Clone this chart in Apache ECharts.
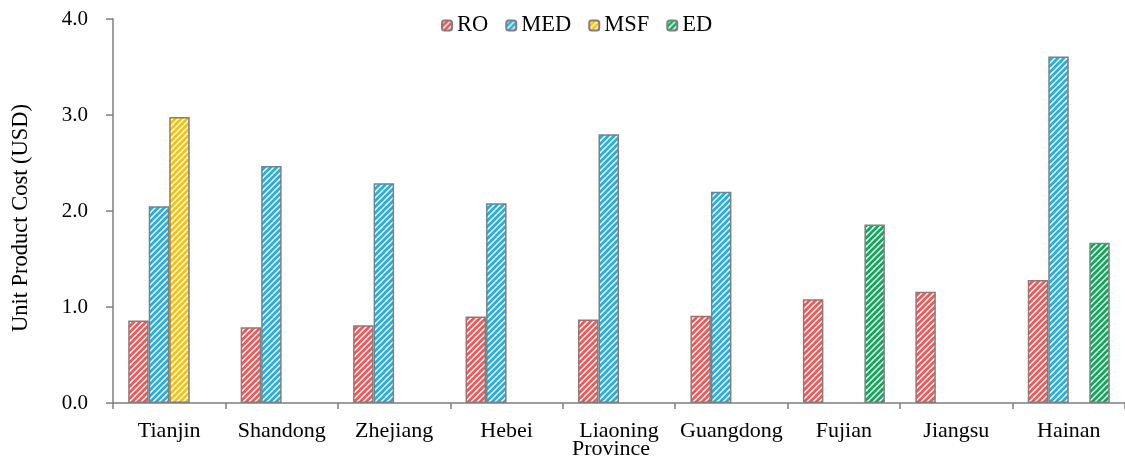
<!DOCTYPE html>
<html><head><meta charset="utf-8">
<script src="https://cdn.jsdelivr.net/npm/echarts@6/dist/echarts.min.js"></script>
<style>html,body{margin:0;padding:0;background:#fff}#c{width:1125px;height:456px}</style>
</head><body><div id="c"></div>
<script>
const categories = ['Tianjin','Shandong','Zhejiang','Hebei','Liaoning','Guangdong','Fujian','Jiangsu','Hainan'];
const RO  = [0.86, 0.79, 0.81, 0.90, 0.87, 0.91, 1.08, 1.16, 1.28];
const MED = [2.05, 2.47, 2.29, 2.08, 2.80, 2.20, null, null, 3.61];
const MSF = [2.98, null, null, null, null, null, null, null, null];
const ED  = [null, null, null, null, null, null, 1.86, null, 1.67];
const yTicks = [0, 1, 2, 3, 4];

function pat(color){
  const s = 6;
  const c = document.createElement('canvas'); c.width = s; c.height = s;
  const g = c.getContext('2d');
  g.fillStyle = '#fff'; g.fillRect(0,0,s,s);
  g.strokeStyle = color; g.lineWidth = 2.7;
  g.beginPath();
  g.moveTo(-1, s+1); g.lineTo(s+1, -1);
  g.moveTo(-s-1, s+1); g.lineTo(1, -1);
  g.moveTo(-1, 2*s+1); g.lineTo(2*s+1, -1);
  g.stroke();
  return {image: c, repeat: 'repeat'};
}
const serif = '"Liberation Serif","Times New Roman",serif';
const border = '#7f7f7f';
function ser(name, data, color){
  return {name, type:'bar', data, barWidth: 20.5, barGap: '0%',
    itemStyle:{color: pat(color), borderColor: border, borderWidth: 1.5}};
}
const chart = echarts.init(document.getElementById('c'));
chart.setOption({
  animation:false,
  textStyle:{fontFamily: serif},
  legend:{top: 9, left: 436, itemWidth: 10, itemHeight: 10, itemGap: 17,
    textStyle:{fontFamily: serif, fontSize: 22.5, color:'#000'}},
  grid:{left:113, right:0, top:19, bottom:53, containLabel:false, outerBoundsMode:'none'},
  xAxis:{type:'category', data: categories,
    name:'Province', nameLocation:'middle', nameGap: 35, nameMoveOverlap:false,
    nameTextStyle:{fontFamily: serif, fontSize: 22, color:'#000', padding:[0,16,0,0]},
    axisLine:{lineStyle:{color: border, width:1.5}},
    axisTick:{show:true, length:6, lineStyle:{color: border, width:1.5}},
    axisLabel:{interval:0, fontFamily: serif, fontSize: 22, color:'#000', margin: 17}},
  yAxis:{type:'value', min:0, max:4, interval:1,
    name:'Unit Product Cost (USD)', nameLocation:'middle', nameGap: 80, nameMoveOverlap:false,
    nameTextStyle:{fontFamily: serif, fontSize: 22.5, color:'#000', padding:[0,14,0,0]},
    axisLine:{show:true, lineStyle:{color: border, width:1.5}},
    axisTick:{show:true, length:7, lineStyle:{color: border, width:1.5}},
    splitLine:{show:false},
    axisLabel:{fontFamily: serif, fontSize: 21, color:'#000', margin: 25,
      formatter: v => yTicks.includes(v) ? v.toFixed(1) : ''}},
  series:[
    ser('RO', RO, '#ff5050'),
    ser('MED', MED, '#1ab0ea'),
    ser('MSF', MSF, '#ffc000'),
    ser('ED', ED, '#00b050')
  ]
});
</script></body></html>
